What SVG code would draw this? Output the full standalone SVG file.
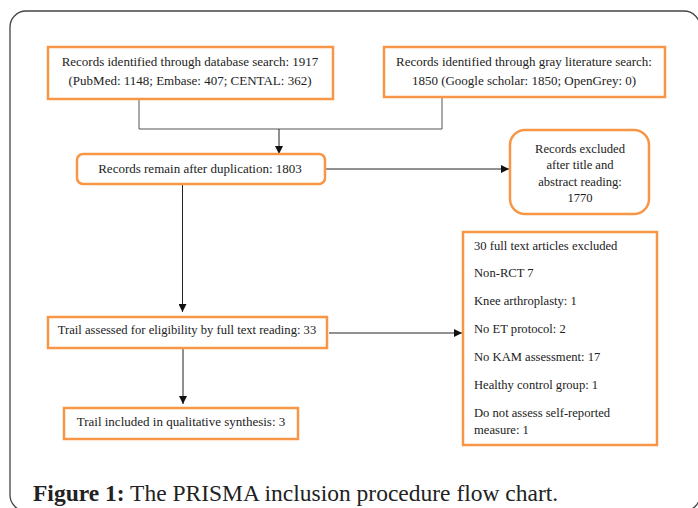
<svg xmlns="http://www.w3.org/2000/svg" width="698" height="508" viewBox="0 0 698 508">
<style>
.box{fill:#fff;stroke:#f79646;stroke-width:2.5}
.t{font-family:"Liberation Serif","Times New Roman",serif;font-size:13px;fill:#222}
.s{font-size:12.6px}
.c{text-anchor:middle}
.ln{fill:none;stroke:#222;stroke-width:1}
.gl{fill:none;stroke:#555;stroke-width:1}
.cap{font-family:"Liberation Serif","Times New Roman",serif;font-size:23.5px;fill:#222}
</style>
<defs>
<marker id="ah" viewBox="0 0 10 10" refX="10" refY="5" markerWidth="8" markerHeight="8" markerUnits="userSpaceOnUse" orient="auto">
<path d="M0,0 L10,5 L0,10 Z" fill="#111"/>
</marker>
</defs>
<rect x="10" y="11" width="690" height="500" rx="16" fill="none" stroke="#444" stroke-width="1.3"/>
<g id="connectors">
<polyline class="gl" points="139,99 139,129 442,129 442,97"/>
<line class="ln" x1="279" y1="129" x2="279" y2="154" marker-end="url(#ah)"/>
<line class="ln" x1="326" y1="169" x2="509" y2="169" marker-end="url(#ah)"/>
<line class="ln" x1="182.5" y1="185" x2="182.5" y2="312" marker-end="url(#ah)"/>
<line class="ln" x1="329" y1="333" x2="462" y2="333" marker-end="url(#ah)"/>
<line class="ln" x1="183" y1="349" x2="183" y2="404" marker-end="url(#ah)"/>
</g>
<g id="db">
<rect class="box" x="48" y="47" width="285" height="52"/>
<text class="t c" x="190" y="66">Records identified through database search: 1917</text>
<text class="t c" x="190" y="85">(PubMed: 1148; Embase: 407; CENTAL: 362)</text>
</g>
<g id="gray">
<rect class="box" x="384" y="47" width="281" height="50"/>
<text class="t c" x="524" y="66">Records identified through gray literature search:</text>
<text class="t c" x="524" y="85">1850 (Google scholar: 1850; OpenGrey: 0)</text>
</g>
<g id="dup">
<rect class="box" x="77" y="154" width="248" height="30" rx="6"/>
<text class="t c" x="200" y="173">Records remain after duplication: 1803</text>
</g>
<g id="excl1">
<rect class="box" x="510" y="130" width="139" height="84" rx="15"/>
<text class="t s c" x="580" y="153">Records excluded</text>
<text class="t s c" x="580" y="169">after title and</text>
<text class="t s c" x="580" y="186">abstract reading:</text>
<text class="t s c" x="580" y="202">1770</text>
</g>
<g id="full">
<rect class="box" x="48" y="317" width="279" height="31"/>
<text class="t s c" x="187" y="334">Trail assessed for eligibility by full text reading:  33</text>
</g>
<g id="excl2">
<rect class="box" x="463" y="232" width="194" height="213"/>
<text class="t s" x="474" y="250">30 full text articles excluded</text>
<text class="t s" x="474" y="277">Non-RCT 7</text>
<text class="t s" x="474" y="305">Knee arthroplasty: 1</text>
<text class="t s" x="474" y="333">No ET protocol: 2</text>
<text class="t s" x="474" y="361">No KAM assessment: 17</text>
<text class="t s" x="474" y="389">Healthy control group: 1</text>
<text class="t s" x="474" y="417">Do not assess self-reported</text>
<text class="t s" x="474" y="434">measure: 1</text>
</g>
<g id="incl">
<rect class="box" x="64" y="408" width="234" height="31"/>
<text class="t c" x="181" y="426">Trail included in qualitative synthesis: 3</text>
</g>
<text class="cap" x="33" y="501"><tspan font-weight="bold">Figure 1:</tspan> The PRISMA inclusion procedure flow chart.</text>
</svg>
